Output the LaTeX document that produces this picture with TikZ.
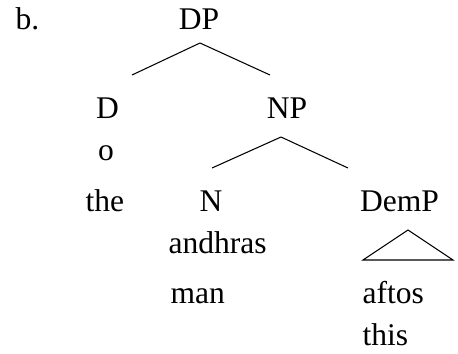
\documentclass[tikz,border=0pt]{standalone}
\usepackage{fontspec}
\setmainfont{Liberation Serif}

\begin{document}
\begin{tikzpicture}[x=0.01336cm, y=-0.01336cm,
    font=\fontsize{12pt}{14pt}\selectfont,
    every node/.style={inner sep=0pt}]
    \useasboundingbox (0,0) rectangle (458,353);

    % example number
    \node[anchor=base west] (lbl) at (15,29) {b.};

    % top
    \node[anchor=base] (dp) at (199,29) {DP};
    \coordinate (dptop) at (200,43);
    \coordinate (dpl) at (132,75);
    \coordinate (dpr) at (270,75);
    \draw (dptop) -- (dpl);
    \draw (dptop) -- (dpr);

    % left: determiner
    \node[anchor=base] (d) at (107.5,118) {D};
    \node[anchor=base] (o) at (106,160) {o};
    \node[anchor=base west] (the) at (85,211) {the};

    % right: noun phrase
    \node[anchor=base] (np) at (287,118) {NP};
    \coordinate (nptop) at (281,137);
    \coordinate (npl) at (212,168);
    \coordinate (npr) at (348,168);
    \draw (nptop) -- (npl);
    \draw (nptop) -- (npr);

    % noun
    \node[anchor=base] (n) at (211,211) {N};
    \node[anchor=base west] (andhras) at (168,253) {andhras};
    \node[anchor=base west] (man) at (170,303) {man};

    % demonstrative
    \node[anchor=base] (demp) at (399.5,211) {DemP};
    \coordinate (tritop) at (408,230);
    \coordinate (tril) at (363,260);
    \coordinate (trir) at (453,260);
    \draw (tritop) -- (tril) -- (trir) -- cycle;
    \node[anchor=base west] (aftos) at (362,303) {aftos};
    \node[anchor=base west] (this) at (362,345) {this};
\end{tikzpicture}
\end{document}
